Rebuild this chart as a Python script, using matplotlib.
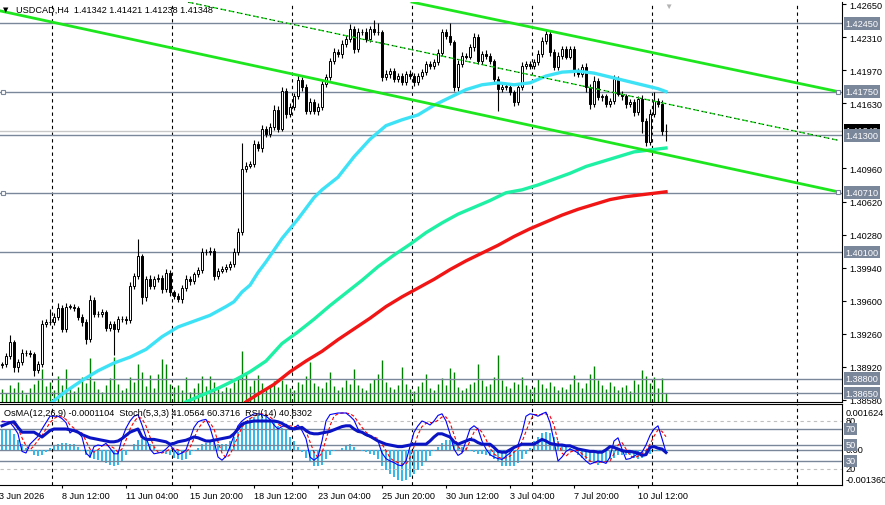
import numpy as np
import matplotlib
matplotlib.use('Agg')
import matplotlib.pyplot as plt
from matplotlib.transforms import blended_transform_factory as blend

plt.rcParams['font.family'] = ['Liberation Sans', 'DejaVu Sans']

# ---- USDCAD H4 candles (close prices, open = previous close) ----
first_open = 1.3894
closes = [
    1.3895, 1.3903, 1.3918, 1.3892, 1.3897, 1.3906, 1.3906, 1.3905, 1.3889, 1.3895,
    1.3936, 1.3938, 1.3938, 1.3943, 1.3953, 1.3931, 1.3954, 1.3954, 1.3953, 1.3943,
    1.3938, 1.3921, 1.3961, 1.3946, 1.3946, 1.3948, 1.3932, 1.3936, 1.3931, 1.3941,
    1.3941, 1.3940, 1.3975, 1.3985, 1.4006, 1.3964, 1.3982, 1.3975, 1.3982, 1.3983,
    1.3972, 1.3989, 1.3969, 1.3965, 1.3962, 1.3973, 1.3982, 1.3980, 1.3987, 1.3992,
    1.4010, 1.4010, 1.4011, 1.3985, 1.3991, 1.3993, 1.3995, 1.3998, 1.4010, 1.4031,
    1.4095, 1.4099, 1.4101, 1.4121, 1.4117, 1.4137, 1.4131, 1.4139, 1.4156, 1.4137,
    1.4176, 1.4152, 1.4159, 1.4170, 1.4187, 1.4180, 1.4155, 1.4164, 1.4155, 1.4159,
    1.4183, 1.4190, 1.4206, 1.4216, 1.4214, 1.4224, 1.4229, 1.4239, 1.4219, 1.4236,
    1.4236, 1.4229, 1.4239, 1.4236, 1.4236, 1.4190, 1.4193, 1.4196, 1.4188, 1.4191,
    1.4185, 1.4193, 1.4191, 1.4185, 1.4191, 1.4195, 1.4203, 1.4201, 1.4205, 1.4215,
    1.4236, 1.4232, 1.4226, 1.4180, 1.4203, 1.4212, 1.4211, 1.4221, 1.4231, 1.4206,
    1.4214, 1.4212, 1.4206, 1.4188, 1.4178, 1.4180, 1.4180, 1.4175, 1.4164, 1.4180,
    1.4201, 1.4203, 1.4201, 1.4205, 1.4214, 1.4227, 1.4234, 1.4216, 1.4200, 1.4212,
    1.4219, 1.4211, 1.4219, 1.4196, 1.4193, 1.4200, 1.4180, 1.4162, 1.4186, 1.4169,
    1.4170, 1.4162, 1.4165, 1.4188, 1.4173, 1.4170, 1.4162, 1.4164, 1.4154, 1.4167,
    1.4145, 1.4123, 1.4152, 1.4165, 1.4162, 1.41342, 1.41348]
# upper / lower shadows in pips
up_wick = [
    2, 3, 7, 2, 3, 4, 3, 3, 2, 3, 4, 3, 14, 4, 5, 3, 4, 3, 3, 2,
    3, 3, 5, 3, 3, 3, 2, 3, 3, 3, 3, 3, 4, 3, 17, 2, 3, 4, 3, 4,
    3, 4, 3, 2, 3, 3, 4, 3, 3, 3, 4, 3, 4, 3, 3, 3, 3, 3, 4, 4,
    27, 4, 3, 4, 3, 4, 3, 4, 5, 4, 4, 3, 4, 4, 5, 3, 3, 4, 3, 4,
    4, 3, 4, 4, 3, 4, 4, 5, 3, 4, 3, 4, 3, 10, 10, 2, 4, 3, 3, 3,
    3, 3, 4, 3, 3, 3, 3, 3, 3, 4, 3, 3, 14, 2, 4, 4, 3, 3, 4, 3,
    3, 4, 3, 3, 3, 4, 3, 3, 2, 3, 4, 3, 3, 3, 4, 4, 4, 3, 3, 4,
    3, 3, 3, 3, 3, 3, 4, 3, 5, 3, 3, 3, 3, 4, 3, 3, 3, 3, 3, 3,
    4, 3, 5, 10, 3, 4, 7.3]
dn_wick = [
    3, 3, 3, 5, 5, 3, 3, 3, 6, 3, 3, 3, 3, 3, 3, 3, 3, 3, 4, 3,
    4, 5, 3, 3, 3, 3, 3, 3, 27, 3, 3, 4, 3, 3, 3, 7, 4, 3, 3, 3,
    4, 3, 4, 3, 3, 4, 3, 4, 3, 3, 3, 3, 3, 4, 3, 3, 3, 3, 3, 3,
    3, 3, 3, 4, 3, 4, 3, 3, 3, 4, 3, 4, 3, 3, 3, 4, 3, 3, 3, 4,
    3, 3, 3, 3, 3, 4, 3, 3, 4, 3, 3, 3, 3, 3, 3, 4, 3, 4, 3, 3,
    3, 3, 3, 4, 3, 3, 3, 3, 3, 3, 3, 3, 3, 4, 4, 3, 3, 3, 4, 3,
    3, 3, 3, 5, 23, 3, 3, 3, 4, 3, 3, 3, 3, 3, 3, 3, 3, 4, 3, 3,
    4, 3, 3, 5, 3, 3, 5, 5, 3, 3, 4, 3, 3, 3, 3, 4, 4, 3, 4, 3,
    13, 4, 3, 3, 3, 4, 10.4]
# tick volume (hundreds)
volumes = [
    13, 9, 17, 14, 20, 12, 8, 14, 18, 22, 33, 16, 20, 12, 26, 17, 33, 14, 11, 15,
    25, 19, 44, 21, 13, 10, 17, 24, 45, 18, 12, 14, 25, 20, 38, 30, 16, 27, 14, 28,
    43, 38, 18, 15, 17, 12, 25, 10, 14, 19, 26, 16, 26, 20, 13, 11, 15, 14, 20, 24,
    51, 30, 16, 22, 27, 19, 13, 17, 21, 15, 22, 18, 14, 12, 20, 18, 26, 40, 19, 16,
    14, 20, 30, 16, 12, 15, 22, 18, 33, 17, 14, 12, 19, 23, 28, 42, 20, 15, 13, 17,
    35, 18, 13, 11, 16, 20, 28, 14, 12, 18, 24, 17, 34, 30, 15, 12, 14, 18, 20, 38,
    22, 16, 18, 25, 47, 22, 16, 14, 20, 18, 25, 17, 13, 15, 23, 18, 14, 20, 16, 12,
    15, 13, 18, 27, 20, 14, 19, 28, 36, 22, 17, 13, 20, 16, 12, 15, 17, 11, 22, 18,
    32, 26, 19, 25, 14, 24, 9]

# ---- moving averages (bar index, price) ----
ma_cyan_bars = [12, 16, 20, 24, 28, 32, 36, 40, 44, 48, 52, 56, 58, 60, 62, 64, 66, 68, 70, 72,
                74, 76, 78, 80, 84, 88, 92, 96, 100, 104, 108, 112, 116, 120, 124, 128, 132, 136,
                140, 144, 148, 152, 156, 160, 164, 166]
ma_cyan = [1.3854, 1.3867, 1.3878, 1.3888, 1.3896, 1.3902, 1.3910, 1.3923, 1.3933, 1.3939,
           1.3945, 1.3954, 1.3959, 1.3969, 1.3976, 1.3989, 1.4000, 1.4012, 1.4024, 1.4034,
           1.4044, 1.4055, 1.4066, 1.4074, 1.4087, 1.4108, 1.4126, 1.4140, 1.4146, 1.4151,
           1.4161, 1.4169, 1.4177, 1.4182, 1.4184, 1.4182, 1.4184, 1.4191, 1.4195, 1.4196,
           1.4194, 1.4190, 1.4186, 1.4182, 1.4178, 1.4175]
ma_green_bars = [46, 50, 54, 58, 62, 66, 70, 74, 78, 82, 86, 90, 94, 98, 102, 106, 110, 114, 118,
                 122, 126, 130, 134, 138, 142, 146, 150, 154, 158, 162, 166]
ma_green = [1.3856, 1.3863, 1.3870, 1.3878, 1.3887, 1.3898, 1.3916, 1.3928, 1.3941, 1.3955,
            1.3968, 1.3981, 1.3995, 1.4007, 1.4018, 1.4030, 1.4040, 1.4049, 1.4056, 1.4063,
            1.4071, 1.4074, 1.4079, 1.4085, 1.4091, 1.4098, 1.4103, 1.4108, 1.4113, 1.4115,
            1.4117]
ma_red_bars = [61, 64, 68, 72, 76, 80, 84, 88, 92, 96, 100, 104, 108, 112, 116, 120, 124, 128,
               132, 136, 140, 144, 148, 152, 156, 160, 164, 166]
ma_red = [1.3856, 1.3864, 1.3874, 1.3887, 1.3898, 1.3908, 1.3920, 1.3931, 1.3942, 1.3954,
          1.3964, 1.3973, 1.3982, 1.3992, 1.4001, 1.4009, 1.4017, 1.4026, 1.4034, 1.4041,
          1.4048, 1.4054, 1.4059, 1.4064, 1.4067, 1.4069, 1.4071, 1.4072]

# ---- trend lines (bar, price) ----
tl_lower = [(-0.5, 1.4258), (209, 1.4072)]
tl_upper = [(102.5, 1.4267), (209, 1.4175)]
tl_mid = [(46.5, 1.4267), (209, 1.4125)]

# ---- horizontal levels ----
hlevels = [1.42450, 1.41750, 1.41300, 1.40710, 1.40100, 1.38800, 1.38650]
last_price = 1.41348
price_ticks = [1.42650, 1.42310, 1.41970, 1.41630, 1.40960, 1.40620, 1.40280,
               1.39940, 1.39600, 1.39260, 1.38920, 1.38580]

# ---- time axis ----
time_bars = [15, 31, 47, 63, 79, 95, 111, 127, 143, 159]
time_labels = ['8 Jun 12:00', '11 Jun 04:00', '15 Jun 20:00', '18 Jun 12:00', '23 Jun 04:00',
               '25 Jun 20:00', '30 Jun 12:00', '3 Jul 04:00', '7 Jul 20:00', '10 Jul 12:00']
grid_bars = [12.6, 42.6, 72.6, 102.6, 132.6, 162.6, 198.75]

# ---- oscillators ----
osma_e5 = [
    75, 75, 71, 56, 37, 19, 4, -7, -19, -26, -22, -11, 7, 15, 22, 26, 26, 22, 19, 11,
    -7, -22, -30, -37, -41, -45, -52, -56, -60, -56, -45, -22, 0, 19, 37, 41, 30, 22, 11, 0,
    -7, -15, -22, -30, -37, -41, -34, -19, -7, 7, 19, 26, 34, 30, 22, 19, 22, 30, 45, 67,
    93, 108, 116, 123, 127, 127, 123, 112, 101, 86, 82, 71, 48, 30, 11, -11, -30, -48, -60, -63,
    -56, -37, -19, -7, 0, 7, 15, 19, 11, 0, -7, -11, -15, -22, -37, -60, -78, -93, -104, -112,
    -116, -112, -101, -90, -75, -60, -45, -26, -7, 11, 26, 34, 34, 30, 22, 11, 4, -4, -11, -15,
    -15, -19, -26, -37, -48, -60, -63, -63, -60, -52, -37, -15, 7, 30, 45, 60, 67, 60, 45, 30,
    19, 11, 4, -7, -19, -30, -37, -45, -52, -56, -52, -45, -37, -30, -22, -19, -19, -22, -30, -34,
    -30, -22, -15, -7, -4, -7, -11]
stoch_main = [
    79, 79, 78, 72, 64, 42, 40, 51, 56, 61, 70, 78, 86, 86, 86, 83, 78, 65, 69, 66,
    60, 40, 35, 48, 50, 49, 52, 46, 39, 39, 58, 71, 80, 86, 88, 75, 60, 45, 39, 40,
    41, 45, 50, 44, 38, 40, 44, 58, 72, 79, 81, 82, 72, 55, 35, 31, 36, 48, 62, 74,
    80, 84, 86, 89, 89, 88, 86, 82, 75, 70, 73, 76, 72, 71, 75, 68, 58, 35, 31, 35,
    55, 80, 88, 89, 90, 90, 90, 86, 81, 70, 65, 62, 60, 58, 55, 40, 33, 30, 28, 25,
    24, 30, 48, 66, 74, 80, 78, 75, 80, 87, 89, 80, 64, 45, 37, 40, 55, 70, 74, 70,
    55, 45, 38, 35, 33, 32, 36, 40, 46, 50, 65, 86, 89, 88, 86, 89, 91, 78, 55, 30,
    35, 42, 45, 43, 40, 35, 30, 26, 28, 30, 29, 27, 35, 55, 59, 45, 32, 33, 36, 39,
    41, 50, 62, 70, 74, 58, 41.06]
stoch_signal = [
    80, 79, 79, 76, 71, 59, 49, 44, 49, 56, 62, 70, 78, 83, 86, 85, 82, 75, 71, 67,
    65, 55, 45, 41, 44, 49, 50, 49, 46, 41, 45, 56, 70, 79, 85, 83, 74, 60, 48, 41,
    40, 42, 45, 46, 44, 41, 41, 47, 58, 70, 77, 81, 78, 70, 54, 40, 34, 38, 49, 61,
    72, 79, 83, 86, 88, 89, 88, 85, 81, 76, 73, 73, 74, 73, 73, 71, 67, 54, 41, 34,
    40, 57, 74, 86, 89, 90, 90, 89, 86, 79, 72, 66, 62, 60, 58, 51, 43, 34, 30, 28,
    26, 26, 34, 48, 63, 73, 77, 78, 78, 81, 85, 85, 78, 63, 49, 41, 44, 55, 66, 71,
    66, 57, 46, 39, 35, 33, 34, 36, 41, 45, 54, 67, 80, 88, 88, 88, 89, 86, 75, 54,
    40, 36, 41, 43, 43, 39, 35, 30, 28, 28, 29, 29, 30, 39, 50, 53, 45, 37, 34, 36,
    39, 43, 51, 61, 69, 67, 60.37]
rsi = [
    74, 76, 78, 79, 72, 66, 66, 66, 66, 63, 60, 64, 68, 70, 70, 70, 70, 69, 68, 66,
    63, 61, 59, 58, 57, 56, 55, 54, 54, 55, 58, 62, 66, 68, 70, 60, 57, 57, 57, 56,
    55, 54, 51, 52, 54, 55, 56, 58, 60, 59, 57, 55, 55, 56, 57, 58, 59, 60, 64, 70,
    76, 78, 79, 80, 80, 80, 80, 80, 80, 79, 77, 74, 71, 70, 71, 72, 68, 65, 64, 64,
    65, 66, 67, 69, 71, 73, 74, 74, 70, 67, 66, 63, 61, 58, 55, 53, 51, 50, 49, 48,
    48, 49, 50, 51, 51, 51, 51, 55, 60, 64, 64, 62, 60, 54, 51, 53, 55, 57, 56, 53,
    51, 51, 51, 47, 42, 41, 41, 44, 47, 49, 51, 51, 51, 51, 54, 57, 55, 52, 51, 50,
    50, 49, 49, 47, 45, 44, 43, 42, 42, 41, 41, 44, 48, 47, 45, 43, 42, 42, 41, 40,
    37, 38, 47, 48, 46, 45, 40.63]

# ---------------------------------------------------------------
W, H = 885, 506
LINE_GREY = '#7a8699'
FS = 6.6

c = np.array(closes)
o = np.r_[first_open, c[:-1]]
hi = np.maximum(o, c) + np.array(up_wick) * 1e-4
lo = np.minimum(o, c) - np.array(dn_wick) * 1e-4
x = np.arange(len(c))

fig = plt.figure(figsize=(W / 100, H / 100), dpi=100)
main_rect = [0, (H - 403) / H, 842 / W, 400 / H]
ind_rect = [0, (H - 486) / H, 842 / W, 81 / H]

vol_ax = fig.add_axes(main_rect, zorder=0)
ax = fig.add_axes(main_rect, sharex=vol_ax, zorder=1)
ax.patch.set_alpha(0)

vol_ax.vlines(x, 0, volumes, color='#008000', lw=1)
vol_ax.set_ylim(0, 400)
vol_ax.axis('off')

ax.set_xlim(-0.5, 210)
ax.set_ylim(1.38559, 1.42671)

# grid and levels
for g in grid_bars:
    ax.axvline(g, color='black', lw=0.8, ls=(0, (3, 3)), zorder=1)
for p in hlevels:
    ax.axhline(p, color=LINE_GREY, lw=1, zorder=2)
ax.axhline(last_price, color='#c8c8c8', lw=1, zorder=1.5)

# candles
ax.vlines(x, lo, hi, color='black', lw=0.8, zorder=3)
body = np.maximum(np.abs(c - o), 0.00003)
ax.bar(x, body, bottom=np.minimum(o, c), width=0.62,
       color=np.where(c >= o, 'white', 'black'), edgecolor='black', linewidth=0.7, zorder=3.5)

# moving averages
ax.plot(ma_red_bars, ma_red, color='#f21515', lw=2.4, zorder=4)
ax.plot(ma_green_bars, ma_green, color='#1ef0a4', lw=2.4, zorder=4)
ax.plot(ma_cyan_bars, ma_cyan, color='#3ee2f6', lw=2.4, zorder=4)

# trend lines
for tl in (tl_lower, tl_upper):
    ax.plot([p[0] for p in tl], [p[1] for p in tl], color='#1ee61e', lw=2, zorder=5)
ax.plot([p[0] for p in tl_mid], [p[1] for p in tl_mid], color='#1ee61e', lw=1,
        ls=(0, (4, 2)), zorder=5)
ax.plot([p[0] for p in tl_mid], [p[1] for p in tl_mid], color='black', lw=0.5,
        ls=(0, (2, 4)), zorder=5.1)
ax.plot([0.25, 0.25], [1.4175, 1.4071], 's', ms=3.5, mfc='white', mec=LINE_GREY,
        mew=0.8, zorder=6, clip_on=False)
ax.plot([209, 209], [1.4175, 1.4072], 's', ms=3.5, mfc='white', mec=LINE_GREY,
        mew=0.8, zorder=6, clip_on=False)

# price axis
for s in ('left', 'top'):
    ax.spines[s].set_visible(False)
ax.spines['right'].set_linewidth(0.8)
ax.spines['bottom'].set_linewidth(0.8)
ax.yaxis.tick_right()
ax.set_yticks(price_ticks, ['%.5f' % t for t in price_ticks])
ax.tick_params(axis='y', direction='out', length=3, width=0.8, labelsize=FS, pad=2)
ax.tick_params(axis='x', bottom=False, labelbottom=False)

ytr = blend(ax.transAxes, ax.transData)
ax.text(1.004, last_price, '%.5f' % last_price, transform=ytr, ha='left', va='center',
        color='white', fontsize=FS, zorder=9, clip_on=False,
        bbox=dict(boxstyle='square,pad=0.2', fc='black', ec='none'))
for p in hlevels:
    ax.text(1.004, p, '%.5f' % p, transform=ytr, ha='left', va='center', color='white',
            fontsize=FS, zorder=10, clip_on=False,
            bbox=dict(boxstyle='square,pad=0.2', fc=LINE_GREY, ec='none'))

ax.text(166.5, 0.997, '\u25bc', transform=blend(ax.transData, ax.transAxes),
        ha='center', va='top', color='#b4b4b4', fontsize=6)
fig.text(3 / W, 1 - 10 / H, '\u25bc', fontsize=5, va='center', family='DejaVu Sans')
fig.text(16 / W, 1 - 10 / H, 'USDCAD,H4  1.41342 1.41421 1.41238 1.41348',
         fontsize=FS, va='center')

# ---- indicator window ----
ind = fig.add_axes(ind_rect, sharex=vol_ax)
ind.set_ylim(-0.001324, 0.001697)
ind.bar(x, np.array(osma_e5) * 1e-5, width=0.6, color='#33b9ee', zorder=2)
ind.axhline(0, color=LINE_GREY, lw=1, zorder=1)
for g in grid_bars:
    ind.axvline(g, color='black', lw=0.8, ls=(0, (3, 3)), zorder=1)
ind.spines['left'].set_visible(False)
for s in ('top', 'bottom', 'right'):
    ind.spines[s].set_linewidth(0.8)
ind.set_yticks([])
ind.set_xticks(time_bars, time_labels)
ind.tick_params(axis='x', direction='out', length=2.5, width=0.8, labelsize=FS, pad=1.5)
for lbl in ind.get_xticklabels():
    lbl.set_ha('left')
ind.text(-0.75, -0.069, '3 Jun 2026', transform=blend(ind.transData, ind.transAxes),
         ha='left', va='top', fontsize=FS, clip_on=False)

osc = ind.twinx()
osc.set_ylim(0, 101.25)
osc.set_yticks([])
for s in osc.spines.values():
    s.set_visible(False)
for lv in (80, 20):
    osc.axhline(lv, color='#c0c0c0', lw=0.8, ls=(0, (3, 3)), zorder=1)
for lv in (70, 50, 30):
    osc.axhline(lv, color=LINE_GREY, lw=1, zorder=1)
osc.plot(x, stoch_signal, color='#ff0000', lw=0.8, ls=(0, (3, 2)), zorder=3)
osc.plot(x, stoch_main, color='#0000ff', lw=0.8, zorder=3)
osc.plot(x, rsi, color='#0b14c4', lw=2.2, zorder=4)

otr = blend(osc.transAxes, osc.transData)
itr = blend(ind.transAxes, ind.transData)
osc.text(1.004, 0.90, '0.001624', transform=osc.transAxes, ha='left', va='center',
         fontsize=FS, clip_on=False)
osc.text(1.004, 0.074, '-0.001360', transform=osc.transAxes, ha='left', va='center',
         fontsize=FS, clip_on=False)
osc.text(1.004, 0, '0.00', transform=itr, ha='left', va='center', fontsize=FS, clip_on=False)
for lv in (80, 20):
    osc.text(1.004, lv, str(lv), transform=otr, ha='left', va='center', fontsize=FS,
             clip_on=False)
for lv in (70, 50, 30):
    osc.text(1.004, lv, str(lv), transform=otr, ha='left', va='center', color='white',
             fontsize=FS, clip_on=False, zorder=10,
             bbox=dict(boxstyle='square,pad=0.2', fc=LINE_GREY, ec='none'))
osc.text(4 / 842, 0.889, 'OsMA(12,26,9) -0.0001104  Stoch(5,3,3) 41.0564 60.3716  RSI(14) 40.6302',
         transform=osc.transAxes, ha='left', va='center', fontsize=FS, zorder=6)

fig.savefig('out.png', dpi=100, facecolor='white')
